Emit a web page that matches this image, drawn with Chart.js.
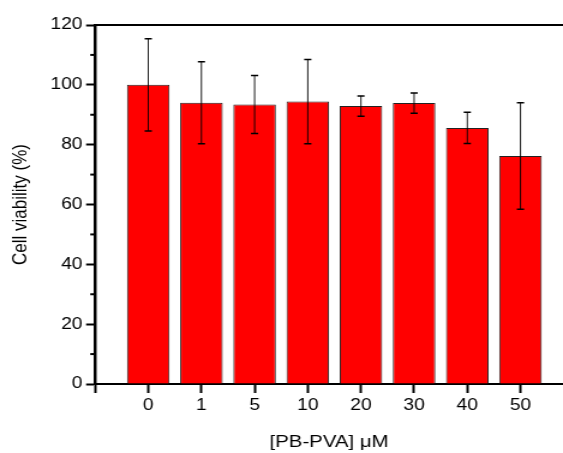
<!DOCTYPE html>
<html>
<head>
<meta charset="utf-8">
<script src="https://cdn.jsdelivr.net/npm/chart.js@4.4.0/dist/chart.umd.min.js"></script>
<style>
html,body{margin:0;padding:0;background:#fff;overflow:hidden;}
#c{display:block;}
</style>
</head>
<body>
<canvas id="c" width="469" height="453" style="width:563px;height:453px;"></canvas>
<script>
const categories = ['0', '1', '5', '10', '20', '30', '40', '50'];
const viability = [100, 94.0, 93.4, 94.4, 92.9, 93.9, 85.6, 76.2];
const errors = [15.4, 13.7, 9.7, 14.1, 3.4, 3.4, 5.2, 17.8];
const yTicks = [0, 20, 40, 60, 80, 100, 120];
const yMinorTicks = [10, 30, 50, 70, 90, 110];

const FONT = 'Liberation Sans, Arial, sans-serif';

const points = categories.map((c, i) => ({ x: i + 1, y: viability[i] }));

const errorBarPlugin = {
  id: 'errorBars',
  afterDatasetsDraw(chart) {
    const ctx = chart.ctx;
    const meta = chart.getDatasetMeta(0);
    const ys = chart.scales.y;
    ctx.save();
    ctx.strokeStyle = '#000';
    meta.data.forEach((bar, i) => {
      const x = bar.x;
      const top = ys.getPixelForValue(viability[i] + errors[i]);
      const bot = ys.getPixelForValue(viability[i] - errors[i]);
      ctx.lineWidth = 0.9;
      ctx.beginPath();
      ctx.moveTo(x, top);
      ctx.lineTo(x, bot);
      ctx.stroke();
      ctx.lineWidth = 1.5;
      ctx.beginPath();
      ctx.moveTo(x - 3, top); ctx.lineTo(x + 3, top);
      ctx.moveTo(x - 3, bot); ctx.lineTo(x + 3, bot);
      ctx.stroke();
    });
    ctx.restore();
  }
};

const framePlugin = {
  id: 'frame',
  afterDraw(chart) {
    const ctx = chart.ctx;
    const ca = chart.chartArea;
    const ys = chart.scales.y;
    ctx.save();
    ctx.strokeStyle = '#000';
    ctx.lineWidth = 2;
    ctx.beginPath();
    ctx.moveTo(ca.left, ca.top);
    ctx.lineTo(chart.width, ca.top);
    ctx.stroke();
    yMinorTicks.forEach(v => {
      const y = ys.getPixelForValue(v);
      ctx.beginPath();
      ctx.moveTo(ca.left - 4, y);
      ctx.lineTo(ca.left, y);
      ctx.stroke();
    });
    ctx.restore();
  }
};

new Chart(document.getElementById('c'), {
  type: 'bar',
  data: {
    datasets: [{
      data: points,
      backgroundColor: '#ff0000',
      borderColor: '#222222',
      borderWidth: 1,
      barPercentage: 0.8,
      categoryPercentage: 1.0
    }]
  },
  options: {
    responsive: false,
    animation: false,
    devicePixelRatio: 1,
    layout: { padding: { top: 25, right: 0, left: 0, bottom: 0 } },
    plugins: { legend: { display: false }, tooltip: { enabled: false } },
    scales: {
      x: {
        type: 'linear',
        min: 0,
        max: 8.8,
        offset: false,
        afterBuildTicks(scale) {
          scale.ticks = [0, 1, 2, 3, 4, 5, 6, 7, 8].map(v => ({ value: v }));
        },
        afterFit(scale) { scale.height = 69; },
        grid: {
          offset: false,
          drawOnChartArea: false,
          drawTicks: true,
          tickLength: 9,
          tickWidth: 2,
          tickColor: '#000'
        },
        border: { display: true, color: '#000', width: 2 },
        ticks: {
          autoSkip: false,
          maxRotation: 0,
          padding: 3,
          color: '#000',
          font: { family: FONT, size: 16 },
          callback: (v) => (v >= 1 && v <= categories.length) ? categories[v - 1] : ''
        },
        title: {
          display: true,
          text: '[PB-PVA] μM',
          color: '#000',
          font: { family: FONT, size: 17 },
          padding: { top: 0, bottom: 0 }
        }
      },
      y: {
        min: 0,
        max: 120,
        afterBuildTicks(scale) {
          scale.ticks = yTicks.map(v => ({ value: v }));
        },
        afterFit(scale) { scale.width = 79.2; },
        grid: {
          drawOnChartArea: false,
          drawTicks: true,
          tickLength: 7.5,
          tickWidth: 2,
          tickColor: '#000'
        },
        border: { display: true, color: '#000', width: 2.5 },
        ticks: {
          padding: 3,
          color: '#000',
          font: { family: FONT, size: 16 }
        },
        title: {
          display: true,
          text: 'Cell viability (%)',
          color: '#000',
          font: { family: FONT, size: 17 },
          padding: { top: 7, bottom: 0 }
        }
      }
    }
  },
  plugins: [errorBarPlugin, framePlugin]
});
</script>
</body>
</html>
